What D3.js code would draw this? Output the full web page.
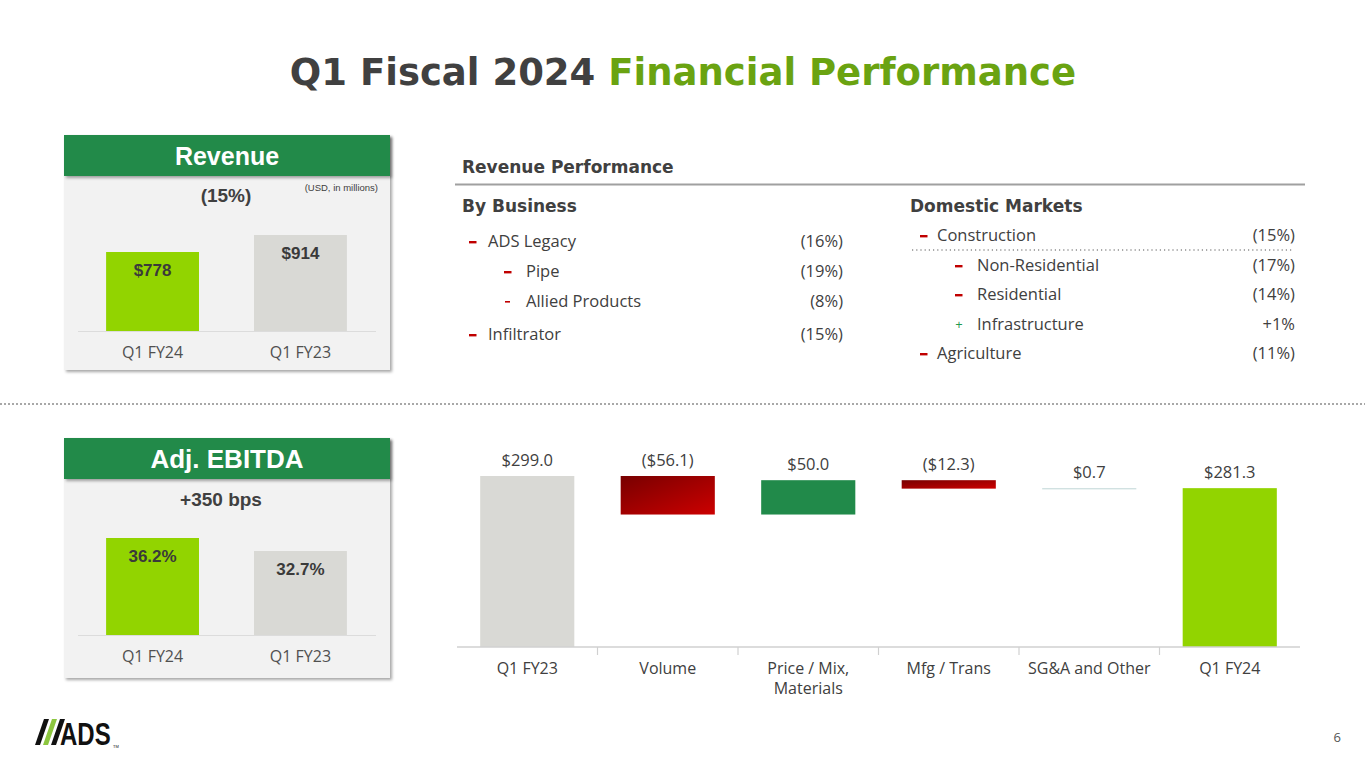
<!DOCTYPE html>
<html><head><meta charset="utf-8">
<script src="https://cdn.jsdelivr.net/npm/d3@7"></script>
<style>
html,body{margin:0;padding:0;background:#fff;}
svg{display:block;}
</style></head>
<body>
<svg id="chart" width="1365" height="768"></svg>
<script>
// ---------- DATA ----------
const titleParts = ["Q1 Fiscal 2024 ", "Financial Performance"];

const revCategories = ["Q1 FY24", "Q1 FY23"];
const revValues = [778, 914];
const revLabels = ["$778", "$914"];
const revChange = "(15%)";

const ebitdaCategories = ["Q1 FY24", "Q1 FY23"];
const ebitdaValues = [36.2, 32.7];
const ebitdaLabels = ["36.2%", "32.7%"];
const ebitdaChange = "+350 bps";

const businessLabels = ["ADS Legacy", "Pipe", "Allied Products", "Infiltrator"];
const businessValues = ["(16%)", "(19%)", "(8%)", "(15%)"];
const businessSigns = ["-", "-", "-", "-"];
const businessLevels = [0, 1, 1, 0];

const marketLabels = ["Construction", "Non-Residential", "Residential", "Infrastructure", "Agriculture"];
const marketValues = ["(15%)", "(17%)", "(14%)", "+1%", "(11%)"];
const marketSigns = ["-", "-", "-", "+", "-"];
const marketLevels = [0, 1, 1, 1, 0];

const wfCategories = ["Q1 FY23", "Volume", "Price / Mix, Materials", "Mfg / Trans", "SG&A and Other", "Q1 FY24"];
const wfValues = [299.0, -56.1, 50.0, -12.3, 0.7, 281.3];
const wfLabels = ["$299.0", "($56.1)", "$50.0", "($12.3)", "$0.7", "$281.3"];
const wfTypes = ["total", "delta", "delta", "delta", "delta", "total"];

// ---------- STYLE ----------
const C = {
  text: "#404040", green: "#6aa311", header: "#218a4a", lime: "#92d400",
  grey: "#d9d9d5", panel: "#f2f2f2", red: "#c00000", axis: "#d0d0d0"
};
const BOLD = "'DejaVu Sans', sans-serif";
const BOLD2 = "'Liberation Sans', Arial, sans-serif";
const REG = "'Open Sans', sans-serif";

const svg = d3.select("#chart");
const defs = svg.append("defs");
const f = defs.append("filter").attr("id", "shadow").attr("x", "-5%").attr("y", "-5%").attr("width", "115%").attr("height", "115%");
f.append("feDropShadow").attr("dx", 2).attr("dy", 2).attr("stdDeviation", 1.5).attr("flood-color", "#000").attr("flood-opacity", 0.35);
const g1 = defs.append("linearGradient").attr("id", "redGrad").attr("x1", "0").attr("y1", "0").attr("x2", "1").attr("y2", "1");
g1.append("stop").attr("offset", "0%").attr("stop-color", "#780000");
g1.append("stop").attr("offset", "100%").attr("stop-color", "#cc0000");

// ---------- TITLE ----------
const title = svg.append("text").attr("x", 683).attr("y", 85).attr("text-anchor", "middle")
  .style("font-family", BOLD).style("font-weight", "bold").style("font-size", "37px");
title.append("tspan").attr("fill", C.text).text(titleParts[0]);
title.append("tspan").attr("fill", C.green).text(titleParts[1]);

// ---------- SMALL PANELS ----------
function panel(opts) {
  const g = svg.append("g");
  g.append("rect").attr("x", 64).attr("y", opts.top).attr("width", 326).attr("height", opts.h)
    .attr("fill", C.panel).attr("filter", "url(#shadow)");
  g.append("rect").attr("x", 64).attr("y", opts.top).attr("width", 326).attr("height", 41)
    .attr("fill", C.header).attr("filter", "url(#shadow)");
  g.append("text").attr("x", 227).attr("y", opts.top + 30).attr("text-anchor", "middle")
    .attr("fill", "#fff").style("font-family", BOLD2).style("font-weight", "bold")
    .style("font-size", opts.hs + "px").text(opts.header);
  g.append("text").attr("x", opts.cx).attr("y", opts.top + opts.cy).attr("text-anchor", "middle")
    .attr("fill", C.text).style("font-family", BOLD2).style("font-weight", "bold")
    .style("font-size", "19px").text(opts.change);
  if (opts.note) {
    g.append("text").attr("x", 378).attr("y", opts.top + 56).attr("text-anchor", "end")
      .attr("fill", C.text).style("font-family", BOLD2).style("font-size", "9.5px").text(opts.note);
  }
  const x = d3.scaleBand().domain(opts.cats).range([78, 375]).paddingInner(0.372).paddingOuter(0.19);
  const y = d3.scaleLinear().domain(opts.domain).range([opts.base, opts.base - opts.span]);
  g.append("line").attr("x1", 78).attr("x2", 376).attr("y1", opts.base + 0.5).attr("y2", opts.base + 0.5)
    .attr("stroke", "#dcdcdc").attr("stroke-width", 1);
  g.selectAll("rect.bar").data(opts.values).join("rect").attr("class", "bar")
    .attr("x", (d, i) => x(opts.cats[i])).attr("width", x.bandwidth())
    .attr("y", d => y(d)).attr("height", d => opts.base - y(d))
    .attr("fill", (d, i) => i === 0 ? C.lime : C.grey);
  g.selectAll("text.val").data(opts.values).join("text").attr("class", "val")
    .attr("x", (d, i) => x(opts.cats[i]) + x.bandwidth() / 2).attr("y", d => y(d) + 24)
    .attr("text-anchor", "middle").attr("fill", "#3a3a3a")
    .style("font-family", BOLD2).style("font-weight", "bold").style("font-size", "17px")
    .text((d, i) => opts.labels[i]);
  g.selectAll("text.cat").data(opts.cats).join("text").attr("class", "cat")
    .attr("x", d => x(d) + x.bandwidth() / 2).attr("y", opts.base + 27)
    .attr("text-anchor", "middle").attr("fill", "#505050")
    .style("font-family", REG).style("font-size", "16px").text(d => d);
}
panel({ top: 135, h: 235, header: "Revenue", hs: 25, change: revChange, cx: 226, cy: 67,
  note: "(USD, in millions)", cats: revCategories, values: revValues, labels: revLabels,
  domain: [146, 914], base: 331, span: 96 });
panel({ top: 438, h: 240, header: "Adj. EBITDA", hs: 26, change: ebitdaChange, cx: 221, cy: 68,
  cats: ebitdaCategories, values: ebitdaValues, labels: ebitdaLabels,
  domain: [10.1, 36.2], base: 635, span: 97 });

// ---------- DIVIDER ----------
svg.append("line").attr("x1", 0).attr("x2", 1365).attr("y1", 404).attr("y2", 404)
  .attr("stroke", "#a8a8a8").attr("stroke-width", 2).attr("stroke-dasharray", "2,2");

// ---------- REVENUE PERFORMANCE ----------
svg.append("text").attr("x", 462).attr("y", 173).attr("fill", C.text)
  .style("font-family", BOLD).style("font-weight", "bold").style("font-size", "17px").text("Revenue Performance");
svg.append("line").attr("x1", 455).attr("x2", 1305).attr("y1", 184.5).attr("y2", 184.5)
  .attr("stroke", "#a0a0a0").attr("stroke-width", 2);
svg.append("text").attr("x", 462).attr("y", 212).attr("fill", C.text)
  .style("font-family", BOLD).style("font-weight", "bold").style("font-size", "17px").text("By Business");
svg.append("text").attr("x", 910).attr("y", 212).attr("fill", C.text)
  .style("font-family", BOLD).style("font-weight", "bold").style("font-size", "17px").text("Domestic Markets");

function list(labels, values, signs, levels, ys, xDash0, xDash1, xText0, xText1, xRight) {
  const g = svg.append("g");
  labels.forEach((lab, i) => {
    const y = ys[i];
    const xd = levels[i] === 0 ? xDash0 : xDash1;
    const xt = levels[i] === 0 ? xText0 : xText1;
    if (signs[i] === "-") {
      const thin = lab === "Allied Products";
      g.append("rect").attr("x", xd + (thin ? 1 : 0)).attr("y", y - 6).attr("width", thin ? 5 : 7.5)
        .attr("height", thin ? 1.6 : 2.4).attr("fill", C.red);
    } else {
      g.append("text").attr("x", xd + 4).attr("y", y - 1).attr("text-anchor", "middle").attr("fill", "#1f9a4f")
        .style("font-family", REG).style("font-size", "13px").text("+");
    }
    g.append("text").attr("x", xt).attr("y", y).attr("fill", C.text)
      .style("font-family", REG).style("font-size", "16.5px").text(lab);
    g.append("text").attr("x", xRight).attr("y", y).attr("text-anchor", "end").attr("fill", C.text)
      .style("font-family", REG).style("font-size", "16.5px").text(values[i]);
  });
}
list(businessLabels, businessValues, businessSigns, businessLevels, [247, 277, 307, 340], 469, 504, 488, 526, 843);
list(marketLabels, marketValues, marketSigns, marketLevels, [241, 271, 300, 330, 359], 920, 955, 937, 977, 1295);
svg.append("line").attr("x1", 912).attr("x2", 1293).attr("y1", 250).attr("y2", 250)
  .attr("stroke", "#555").attr("stroke-width", 1.2).attr("stroke-dasharray", "1.2,3");

// ---------- WATERFALL ----------
const wx = d3.scaleBand().domain(wfCategories).range([457, 1300]).paddingInner(0.33).paddingOuter(0.165);
const wy = d3.scaleLinear().domain([50, 299]).range([647, 476]);
let run = 0;
const wf = wfValues.map((v, i) => {
  let s, e;
  if (wfTypes[i] === "total") { s = 50; e = v; run = v; }
  else { s = run; e = run + v; run = e; }
  return { cat: wfCategories[i], v, s, e, label: wfLabels[i], type: wfTypes[i] };
});
const wg = svg.append("g");
wg.selectAll("rect.wf").data(wf).join("rect").attr("class", "wf")
  .attr("x", d => wx(d.cat)).attr("width", wx.bandwidth())
  .attr("y", d => wy(Math.max(d.s, d.e)))
  .attr("height", d => Math.max(1.2, Math.abs(wy(d.s) - wy(d.e))))
  .attr("fill", (d, i) => {
    if (i === 0) return C.grey;
    if (i === wf.length - 1) return C.lime;
    if (Math.abs(d.v) < 1) return "#c9dcdc";
    return d.v < 0 ? "url(#redGrad)" : C.header;
  });
wg.selectAll("text.wfl").data(wf).join("text").attr("class", "wfl")
  .attr("x", d => wx(d.cat) + wx.bandwidth() / 2)
  .attr("y", d => wy(Math.max(d.s, d.e)) - 10)
  .attr("text-anchor", "middle").attr("fill", C.text)
  .style("font-family", REG).style("font-size", "16.5px").text(d => d.label);
// axis
const axis = d3.axisBottom(wx).tickSize(0).tickPadding(0);
const ag = wg.append("g").attr("transform", "translate(0,647)").call(axis);
ag.select(".domain").attr("stroke", C.axis).attr("stroke-width", 1.5).attr("d", "M457,0H1300");
ag.selectAll(".tick text").remove();
ag.selectAll(".tick line").remove();
d3.range(1, wfCategories.length).forEach(i => {
  const xb = wx(wfCategories[i]) - wx.step() * wx.paddingInner() / 2;
  ag.append("line").attr("x1", xb).attr("x2", xb).attr("y1", 0).attr("y2", 8)
    .attr("stroke", C.axis).attr("stroke-width", 1.2);
});
ag.selectAll(".tick").each(function (d) {
  const t = d3.select(this).append("text").attr("fill", C.text).attr("text-anchor", "middle")
    .style("font-family", REG).style("font-size", "16px");
  const parts = d === "Price / Mix, Materials" ? ["Price / Mix,", "Materials"] : [d];
  parts.forEach((p, k) => t.append("tspan").attr("x", 0).attr("y", 27 + k * 20).text(p));
});

// ---------- LOGO & PAGE ----------
const lg = svg.append("g");
[0, 1, 2].forEach(k => {
  lg.append("path").attr("d", `M${35 + k * 8},745 L${44 + k * 8},719 L${49 + k * 8},719 L${40 + k * 8},745 Z`)
    .attr("fill", k === 1 ? "#8cc63f" : "#111");
});
lg.append("text").attr("transform", "translate(60,745) scale(1,1.3)").attr("fill", "#111")
  .style("font-family", BOLD2).style("font-weight", "bold").style("font-size", "24px").text("ADS");
lg.append("text").attr("x", 113).attr("y", 748).attr("fill", "#111")
  .style("font-family", BOLD2).style("font-size", "4px").text("TM");
svg.append("text").attr("x", 1341).attr("y", 742).attr("text-anchor", "end").attr("fill", "#555")
  .style("font-family", REG).style("font-size", "13px").text("6");
</script>
</body></html>
